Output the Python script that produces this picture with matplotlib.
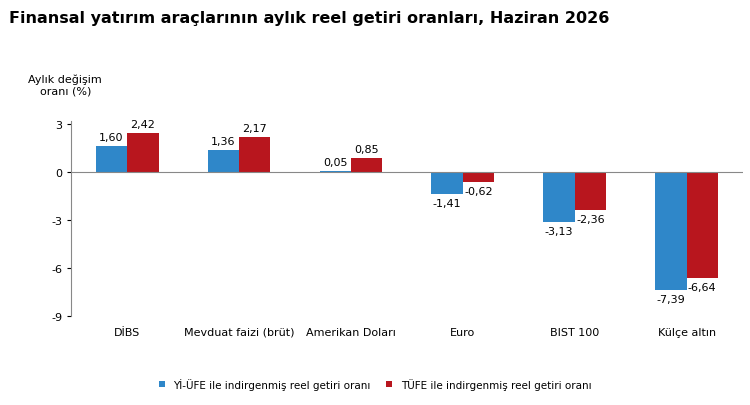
import matplotlib.pyplot as plt
import numpy as np

categories = ["DİBS", "Mevduat faizi (brüt)", "Amerikan Doları", "Euro", "BIST 100", "Külçe altın"]
yi_ufe = [1.60, 1.36, 0.05, -1.41, -3.13, -7.39]
tufe = [2.42, 2.17, 0.85, -0.62, -2.36, -6.64]
yticks = [3, 0, -3, -6, -9]

fig = plt.figure(figsize=(7.5, 4.06), dpi=100)
ax = fig.add_axes([0.095, 0.22, 0.895, 0.48])

x = np.arange(len(categories))
w = 0.28
blue = "#2f87c9"
red = "#b8161e"
b1 = ax.bar(x - w / 2, yi_ufe, w, color=blue, label="Yİ-ÜFE ile indirgenmiş reel getiri oranı")
b2 = ax.bar(x + w / 2, tufe, w, color=red, label="TÜFE ile indirgenmiş reel getiri oranı")

def fmt(v):
    return f"{v:.2f}".replace(".", ",")

for rects, vals in ((b1, yi_ufe), (b2, tufe)):
    for r, v in zip(rects, vals):
        off = 0.25 if v >= 0 else -0.25
        ax.text(r.get_x() + r.get_width() / 2, v + off, fmt(v), ha="center",
                va="bottom" if v >= 0 else "top", fontsize=8)

ax.set_ylim(-9, 3.2)
ax.set_xlim(-0.5, len(categories) - 0.5)
ax.set_yticks(yticks)
ax.set_yticklabels([str(t) for t in yticks], fontsize=8)
ax.set_xticks(x)
ax.set_xticklabels(categories, fontsize=8)
ax.tick_params(axis="x", length=0, pad=8)
ax.tick_params(axis="y", length=3)
ax.axhline(0, color="#888888", lw=0.8)
for s in ("top", "right", "bottom"):
    ax.spines[s].set_visible(False)
ax.spines["left"].set_color("#888888")

fig.text(0.012, 0.955, "Finansal yatırım araçlarının aylık reel getiri oranları, Haziran 2026",
         fontsize=11.5, fontweight="bold", va="center")
fig.text(0.087, 0.79, "Aylık değişim\noranı (%)", fontsize=8, ha="center", va="center")
fig.legend(loc="lower center", bbox_to_anchor=(0.5, 0.015), ncol=2, frameon=False,
           fontsize=7.5, handlelength=0.6, handleheight=0.6, columnspacing=1.5)

fig.savefig("out.png", dpi=100)
